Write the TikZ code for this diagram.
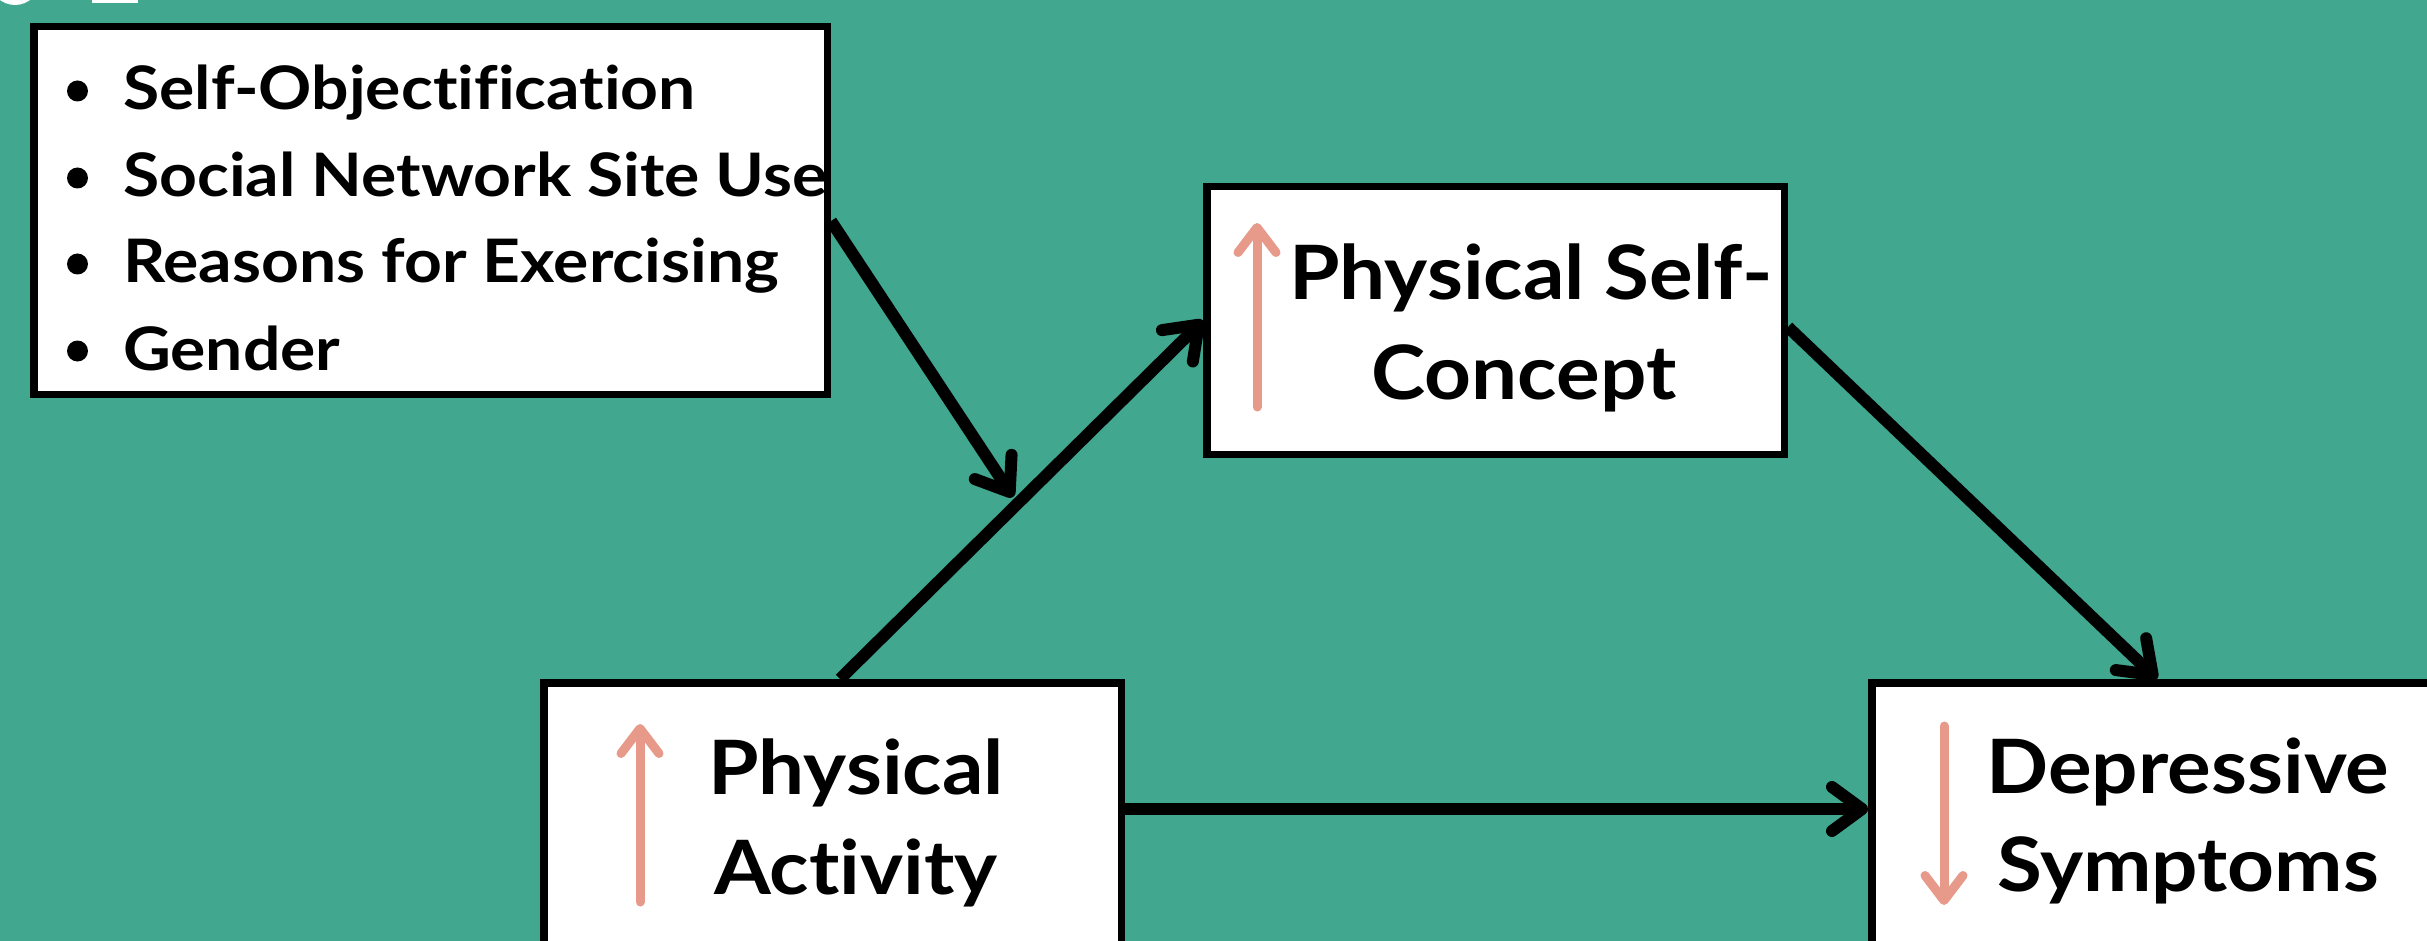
\documentclass[tikz,border=0pt]{standalone}
\usepackage{fontspec}
\setmainfont{Lato}[Ligatures=NoCommon]
\newfontfamily\listfont{Lato}[Ligatures=NoCommon, FakeStretch=1.1]
\newfontfamily\mainfont{Lato}[Ligatures=NoCommon, FakeStretch=1.09]
\usetikzlibrary{arrows.meta}
\definecolor{bgteal}{HTML}{41A78F}
\definecolor{pinkc}{HTML}{E79A89}
\tikzset{
  box/.style={rectangle, draw=black, line width=7.5pt, fill=white, inner sep=0pt},
  conn/.style={line width=12pt, -{Straight Barb[length=30pt,width=44pt,round]}},
  updown/.style={draw=pinkc, line width=9pt, line cap=round, -{Straight Barb[length=25pt,width=38pt,round]}},
  listtxt/.style={anchor=base west, inner sep=0pt, font=\listfont\fontsize{60}{72}\selectfont\bfseries},
  maintxt/.style={anchor=base, inner sep=0pt, font=\mainfont\fontsize{75}{90}\selectfont\bfseries},
  bul/.style={circle, fill=black, inner sep=0pt, minimum size=21pt}
}
\begin{document}
\begin{tikzpicture}[x=1pt,y=-1pt]
\useasboundingbox (0,0) rectangle (2427,941);
\clip (0,0) rectangle (2427,941);
\fill[bgteal] (0,0) rectangle (2427,941);
% fragments at the top edge
\fill[white] (15,-20) circle [radius=25pt];
\fill[white] (92,-2) rectangle (138,3);
% boxes
\node[box, minimum width=793.5pt, minimum height=367.5pt] (mods) at (430.5,210.5) {};
\node[box, minimum width=577.5pt, minimum height=267.5pt] (psc) at (1495.5,320.5) {};
\node[box, minimum width=577.5pt, minimum height=300pt] (pa) at (832.5,832.75) {};
\node[box, minimum width=577.5pt, minimum height=300pt] (ds) at (2160.5,832.75) {};
% list
\node[bul] (b1) at (77.5,91) {};
\node[bul] (b2) at (77.5,178) {};
\node[bul] (b3) at (77.5,264) {};
\node[bul] (b4) at (77.5,351) {};
\node[listtxt] (l1) at (123,110) {Self-Objectification};
\node[listtxt] (l2) at (123,197) {Social Network Site Use};
\node[listtxt] (l3) at (123,283) {Reasons for Exercising};
\node[listtxt] (l4) at (123,370) {Gender};
% main texts
\node[maintxt] (psc1) at (1531,299) {Physical Self-};
\node[maintxt] (psc2) at (1524,399) {Concept};
\node[maintxt] (pa1) at (856,794) {Physical};
\node[maintxt] (pa2) at (856,894) {Activity};
\node[maintxt] (ds1) at (2188,793) {Depressive};
\node[maintxt] (ds2) at (2188,891) {Symptoms};
% pink arrows
\draw[updown] (1257,407) -- (1257,223);
\draw[updown] (640,902) -- (640,724);
\draw[updown] (1944,726) -- (1944,905);
% connectors
\coordinate (modpt) at (1013,497);
\draw[conn] ([yshift=-10.5pt]mods.east) -- (modpt);
\draw[conn] ([xshift=7.5pt]pa.north) -- (psc.west);
\draw[conn] ([yshift=-6.5pt]psc.east) -- ([xshift=-3.5pt]ds.north);
\draw[conn] ([yshift=23.75pt]pa.east) -- ([yshift=23.75pt]ds.west);
\end{tikzpicture}
\end{document}
